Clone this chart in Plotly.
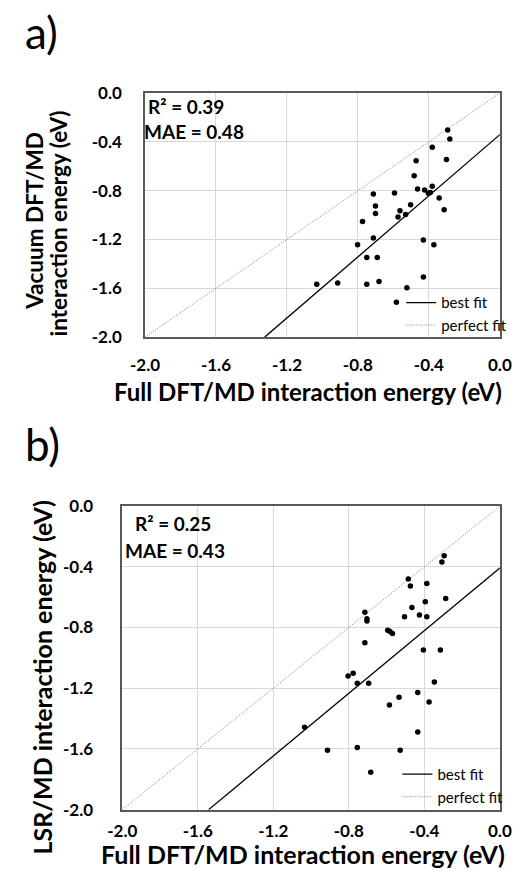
import plotly.graph_objects as go

# ---------------- data ----------------
# panel a: Full DFT/MD (x) vs Vacuum DFT/MD (y) interaction energies (eV)
a_full = [-0.294, -0.282, -0.381, -0.301, -0.472, -0.483, -0.464, -0.424, -0.381, -0.403,
          -0.392, -0.342, -0.314, -0.594, -0.713, -0.701, -0.701, -0.503, -0.563, -0.574,
          -0.531, -0.774, -0.713, -0.802, -0.750, -0.691, -0.431, -0.372, -1.032, -0.914,
          -0.750, -0.681, -0.524, -0.431, -0.583]
a_vacuum = [-0.304, -0.376, -0.445, -0.544, -0.555, -0.677, -0.787, -0.795, -0.765, -0.822,
            -0.816, -0.861, -0.957, -0.819, -0.827, -0.925, -0.987, -0.915, -0.965, -1.016,
            -0.995, -1.053, -1.187, -1.243, -1.347, -1.347, -1.205, -1.243, -1.568, -1.557,
            -1.568, -1.544, -1.595, -1.507, -1.715]

# panel b: Full DFT/MD (x) vs LSR/MD (y) interaction energies (eV)
b_full = [-0.295, -0.307, -0.485, -0.474, -0.387, -0.287, -0.395, -0.466, -0.505, -0.426,
          -0.387, -0.715, -0.704, -0.704, -0.594, -0.582, -0.569, -0.715, -0.405, -0.315,
          -0.804, -0.777, -0.755, -0.695, -0.347, -0.435, -0.534, -0.585, -0.375, -1.034,
          -0.435, -0.913, -0.755, -0.528, -0.684]
b_lsr = [-0.328, -0.369, -0.480, -0.527, -0.510, -0.609, -0.630, -0.669, -0.729, -0.718,
         -0.729, -0.699, -0.742, -0.757, -0.819, -0.826, -0.839, -0.900, -0.948, -0.948,
         -1.119, -1.102, -1.168, -1.168, -1.160, -1.229, -1.259, -1.310, -1.291, -1.458,
         -1.488, -1.608, -1.591, -1.608, -1.754]

# best-fit lines (slope, intercept)
fit_a = (1.252, -0.341)
fit_b = (1.032, -0.408)

# statistics text
stats_a = ["R² = 0.39", "MAE = 0.48"]
stats_b = ["R² = 0.25", "MAE = 0.43"]

axis_range = [-2.0, 0.0]
tick_vals = [-2.0, -1.6, -1.2, -0.8, -0.4, 0.0]
tick_text = ["-2.0", "-1.6", "-1.2", "-0.8", "-0.4", "0.0"]

x_title = "Full DFT/MD interaction energy (eV)"
ya_title = ["Vacuum DFT/MD", "interaction energy (eV)"]
yb_title = "LSR/MD interaction energy (eV)"

# ---------------- figure ----------------
W, H = 528, 888
FONT = "Lato"


def fx(p):
    return p / W


def fy(p):
    return 1 - p / H


fig = go.Figure()


def add_panel(xs, ys, fit, xa, ya, leg):
    slope, icpt = fit
    x0 = (axis_range[0] - icpt) / slope
    fig.add_trace(go.Scatter(x=[x0, axis_range[1]],
                             y=[slope * x0 + icpt, slope * axis_range[1] + icpt],
                             mode="lines", line=dict(color="black", width=1.3),
                             name="best fit", xaxis=xa, yaxis=ya, legend=leg))
    fig.add_trace(go.Scatter(x=axis_range, y=axis_range, mode="lines",
                             line=dict(color="#808080", width=1, dash="1px,1.5px"),
                             name="perfect fit", xaxis=xa, yaxis=ya, legend=leg))
    fig.add_trace(go.Scatter(x=xs, y=ys, mode="markers",
                             marker=dict(color="black", size=5.5),
                             showlegend=False, xaxis=xa, yaxis=ya))


add_panel(a_full, a_vacuum, fit_a, "x", "y", "legend")
add_panel(b_full, b_lsr, fit_b, "x2", "y2", "legend2")

bold_ticks = ["<b>%s</b>" % t for t in tick_text]


def axis(domain, anchor, size, standoff):
    return dict(domain=domain, anchor=anchor, range=axis_range,
                tickvals=tick_vals, ticktext=bold_ticks,
                showgrid=True, gridcolor="#d9d9d9", gridwidth=1,
                showline=True, linecolor="#595959", linewidth=1.5, mirror=True,
                zeroline=False, ticks="", ticklabelstandoff=standoff,
                tickfont=dict(family=FONT, size=size, color="black"))


fig.update_layout(
    width=W, height=H,
    margin=dict(l=0, r=0, t=0, b=0),
    paper_bgcolor="white", plot_bgcolor="white",
    xaxis=axis([fx(137), fx(511)], "y", 17, 12),
    yaxis=axis([fy(334), fy(84)], "x", 17, 18),
    xaxis2=axis([fx(113), fx(511)], "y2", 17, 5),
    yaxis2=axis([fy(818), fy(507)], "x2", 17, 24),
    legend=dict(x=fx(407), y=fy(282), xanchor="left", yanchor="top",
                bgcolor="rgba(0,0,0,0)", font=dict(family=FONT, size=15, color="black"),
                tracegroupgap=0),
    legend2=dict(x=fx(403), y=fy(765), xanchor="left", yanchor="top",
                 bgcolor="rgba(0,0,0,0)", font=dict(family=FONT, size=15, color="black"),
                 tracegroupgap=0),
    showlegend=True,
)

ann = []


def text(t, x, y, size, bold=True, angle=0, xanchor="center"):
    ann.append(dict(text=t, x=fx(x), y=fy(y), xref="paper", yref="paper",
                    xanchor=xanchor, yanchor="middle", showarrow=False, textangle=angle,
                    font=dict(family=FONT, size=size, color="black",
                              weight="bold" if bold else "normal")))


text("a)", 8, 22, 44, bold=False, xanchor="left")
text("b)", 8, 443, 44, bold=False, xanchor="left")

# stats
text(stats_a[0], 138, 98, 19, xanchor="left")
text(stats_a[1], 134, 123, 19, xanchor="left")
text(stats_b[0], 124, 525, 19, xanchor="left")
text(stats_b[1], 114, 553, 19, xanchor="left")

# axis titles
text(x_title, 309, 390, 24)
text(x_title, 304, 863, 25)
text(ya_title[0], 21, 215, 22.5, angle=-90)
text(ya_title[1], 46, 218, 22.5, angle=-90)
text(yb_title, 28, 683, 25, angle=-90)

fig.update_layout(annotations=ann)

fig.write_html("out.html")
